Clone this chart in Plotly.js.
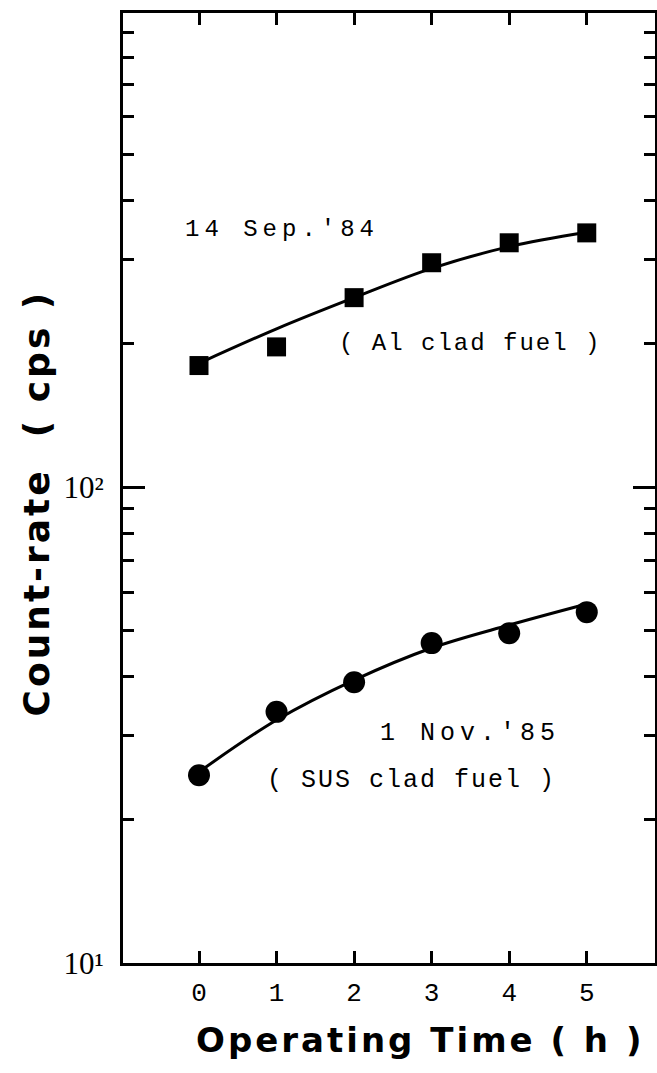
<!DOCTYPE html>
<html>
<head>
<meta charset="utf-8">
<script src="https://cdn.plot.ly/plotly-3.0.1.min.js"></script>
<style>
  html, body { margin: 0; padding: 0; background: #fff; }
  #chart { width: 657px; height: 1073px; }
</style>
</head>
<body>
<div id="chart"></div>
<script>
// ---- data ----
const hours = [0, 1, 2, 3, 4, 5];
const alMeasured = [180, 197, 250, 296, 326, 342];      // 14 Sep.'84 (Al clad fuel)
const alFit = [182, 215, 250, 288, 320, 343];
const susMeasured = [24.8, 33.7, 38.9, 47.0, 49.3, 54.6]; // 1 Nov.'85 (SUS clad fuel)
const susFit = [25.2, 32.4, 39.3, 45.9, 51.3, 56.8];

const xTickVals = [0, 1, 2, 3, 4, 5];
const xTickText = ['0', '1', '2', '3', '4', '5'];
const yTickVals = [10, 100];
const yTickText = ['10\u00b9', '10\u00b2'];
const yMinorVals = [20, 30, 40, 50, 60, 70, 80, 90, 200, 300, 400, 500, 600, 700, 800, 900];

const black = '#000000';
const mono = 'Liberation Mono, DejaVu Sans Mono, monospace';
const serif = 'Liberation Serif, DejaVu Serif, serif';
const sansBold = {family: 'DejaVu Sans, Liberation Sans, sans-serif', size: 34, color: black, weight: 'bold'};

const traces = [
  {x: hours, y: alFit, mode: 'lines', line: {color: black, width: 3, shape: 'spline', smoothing: 1}, hoverinfo: 'skip', showlegend: false},
  {x: hours, y: alMeasured, mode: 'markers', marker: {symbol: 'square', size: 19, color: black}, showlegend: false},
  {x: hours, y: susFit, mode: 'lines', line: {color: black, width: 3, shape: 'spline', smoothing: 1}, hoverinfo: 'skip', showlegend: false},
  {x: hours, y: susMeasured, mode: 'markers', marker: {symbol: 'circle', size: 22, color: black}, showlegend: false}
];

const layout = {
  width: 657, height: 1073,
  margin: {l: 123, r: 2, t: 13, b: 110, pad: 0},
  paper_bgcolor: '#ffffff', plot_bgcolor: '#ffffff',
  showlegend: false,
  xaxis: {
    range: [-0.98, 5.88],
    tickmode: 'array', tickvals: xTickVals, ticktext: xTickText,
    ticks: 'inside', ticklen: 12, tickwidth: 3, tickcolor: black,
    showline: true, linewidth: 3, linecolor: black, mirror: 'ticks',
    showgrid: false, zeroline: false,
    tickfont: {family: mono, size: 26, color: black},
    ticklabelstandoff: 4
  },
  yaxis: {
    type: 'log', range: [1, 2.996],
    tickmode: 'array', tickvals: yTickVals, ticktext: yTickText,
    ticks: 'inside', ticklen: 22, tickwidth: 3, tickcolor: black,
    minor: {tickmode: 'array', tickvals: yMinorVals, ticks: 'inside', ticklen: 11, tickwidth: 3, tickcolor: black, showgrid: false},
    showline: true, linewidth: 3, linecolor: black, mirror: 'ticks',
    showgrid: false, zeroline: false,
    tickfont: {family: serif, size: 31, color: black},
    ticklabelstandoff: 10
  },
  annotations: [
    {xref: 'paper', yref: 'paper', x: 0.1128, y: 0.7726, xanchor: 'left', yanchor: 'middle', showarrow: false,
     text: '<span style="letter-spacing:5px">14 Sep.\'84</span>', font: {family: mono, size: 24, color: black}},
    {xref: 'paper', yref: 'paper', x: 0.4023, y: 0.6526, xanchor: 'left', yanchor: 'middle', showarrow: false,
     text: '<span style="letter-spacing:2px">( Al clad fuel )</span>', font: {family: mono, size: 24, color: black}},
    {xref: 'paper', yref: 'paper', x: 0.4793, y: 0.2421, xanchor: 'left', yanchor: 'middle', showarrow: false,
     text: '<span style="letter-spacing:5px">1 Nov.\'85</span>', font: {family: mono, size: 25, color: black}},
    {xref: 'paper', yref: 'paper', x: 0.2669, y: 0.1926, xanchor: 'left', yanchor: 'middle', showarrow: false,
     text: '<span style="letter-spacing:2px">( SUS clad fuel )</span>', font: {family: mono, size: 25, color: black}},
    {xref: 'paper', yref: 'paper', x: 0.558, y: -0.081, xanchor: 'center', yanchor: 'middle', showarrow: false,
     text: '<span style="letter-spacing:3px">Operating Time ( h )</span>', font: sansBold},
    {xref: 'paper', yref: 'paper', x: -0.1635, y: 0.4837, xanchor: 'center', yanchor: 'middle', showarrow: false, textangle: -90,
     text: '<span style="letter-spacing:3px">Count-rate\u00a0\u00a0( cps )</span>', font: Object.assign({}, sansBold, {size: 36})}
  ]
};

Plotly.newPlot('chart', traces, layout, {staticPlot: true, displayModeBar: false});
</script>
</body>
</html>
